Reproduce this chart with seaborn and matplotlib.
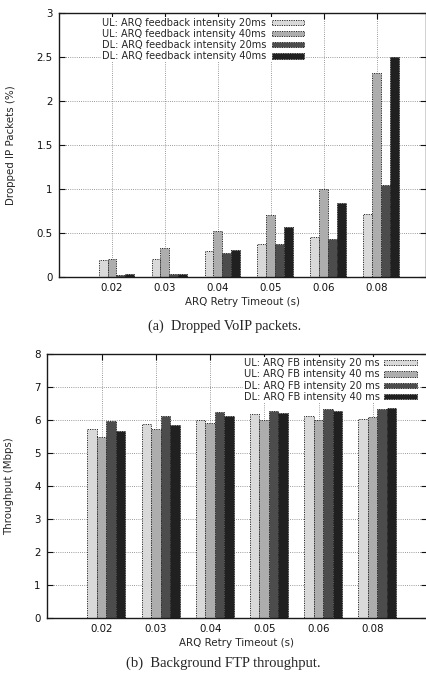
import numpy as np
import pandas as pd
import matplotlib
matplotlib.use("Agg")
import matplotlib.pyplot as plt
import seaborn as sns

# ARQ retry timeout categories (s)
timeouts = ["0.02", "0.03", "0.04", "0.05", "0.06", "0.08"]

# (a) dropped VoIP packets (%)
drop_series = [
    "UL: ARQ feedback intensity 20ms",
    "UL: ARQ feedback intensity 40ms",
    "DL: ARQ feedback intensity 20ms",
    "DL: ARQ feedback intensity 40ms",
]
drop_ul20 = [0.19, 0.21, 0.29, 0.37, 0.45, 0.72]
drop_ul40 = [0.20, 0.33, 0.52, 0.70, 1.00, 2.32]
drop_dl20 = [0.02, 0.03, 0.27, 0.38, 0.435, 1.045]
drop_dl40 = [0.03, 0.035, 0.31, 0.57, 0.84, 2.50]

# (b) background FTP throughput (Mbps)
tput_series = [
    "UL: ARQ FB intensity 20 ms",
    "UL: ARQ FB intensity 40 ms",
    "DL: ARQ FB intensity 20 ms",
    "DL: ARQ FB intensity 40 ms",
]
tput_ul20 = [5.73, 5.87, 5.99, 6.18, 6.13, 6.02]
tput_ul40 = [5.50, 5.73, 5.91, 6.00, 6.01, 6.09]
tput_dl20 = [5.96, 6.13, 6.25, 6.27, 6.33, 6.33]
tput_dl40 = [5.66, 5.86, 6.13, 6.22, 6.28, 6.35]

bar_colors = ["#d9d9d9", "#adadad", "#4c4c4c", "#202020"]

sns.set_style("ticks")
plt.rcParams["font.family"] = ["DejaVu Sans"]
plt.rcParams["font.size"] = 7.4

fig = plt.figure(figsize=(4.27, 6.77), dpi=100)
W, H = 427, 677


def box(l, t, r, b):
    return [l / W, 1 - b / H, (r - l) / W, (b - t) / H]


def long_frame(names, columns):
    rows = []
    for name, vals in zip(names, columns):
        for cat, v in zip(timeouts, vals):
            rows.append({"timeout": cat, "value": v, "series": name})
    return pd.DataFrame(rows)


def draw(ax, names, columns, width, yticks, ylabel, xlim, ylab_x):
    df = long_frame(names, columns)
    sns.barplot(data=df, x="timeout", y="value", hue="series",
                order=timeouts, hue_order=names, palette=bar_colors,
                width=width, saturation=1, errorbar=None,
                edgecolor="#2b2b2b", linewidth=0.7, ax=ax)
    for p in ax.patches:
        p.set_linestyle((0, (1.2, 1.2)))
    handles, labels = ax.get_legend_handles_labels()
    if ax.get_legend() is not None:
        ax.get_legend().remove()

    shift = 0.085
    ax.set_xticks(np.arange(len(timeouts)) - shift, timeouts)
    ax.set_xlim(*xlim)
    ax.set_ylim(yticks[0], yticks[-1])
    ax.set_yticks(yticks, [f"{t:g}" for t in yticks])
    ax.grid(True, color="#7a7a7a", linestyle=(0, (1, 1.6)), linewidth=0.6)
    ax.set_axisbelow(True)
    ax.tick_params(direction="in", top=True, right=True, length=4,
                   width=0.8, pad=4.5, labelsize=7.4, colors="#111111")
    for s in ax.spines.values():
        s.set_linewidth(1.0)
        s.set_color("#1a1a1a")
    ax.set_xlabel("ARQ Retry Timeout (s)", fontsize=7.4, labelpad=3)
    ax.set_ylabel(ylabel, fontsize=7.4)
    ax.yaxis.set_label_coords(ylab_x, 0.5)
    return handles, labels


# (a) dropped packets
ax1 = fig.add_axes(box(59, 13, 426, 277))
h1, l1 = draw(ax1, drop_series, [drop_ul20, drop_ul40, drop_dl20, drop_dl40],
              0.67, [0, 0.5, 1, 1.5, 2, 2.5, 3], "Dropped IP Packets (%)",
              (-1.085, 5.85), -0.118)
fig.legend(h1, l1, loc="upper right", bbox_to_anchor=(305 / W, 1 - 17 / H),
           markerfirst=False, frameon=True, facecolor="white", edgecolor="none",
           framealpha=1, borderpad=0.1, borderaxespad=0, labelspacing=0.12,
           handlelength=3.3, handleheight=0.45, handletextpad=0.6,
           fontsize=7.0)

# (b) throughput
ax2 = fig.add_axes(box(47, 354, 427, 618))
h2, l2 = draw(ax2, tput_series, [tput_ul20, tput_ul40, tput_dl20, tput_dl40],
              0.70, list(range(0, 9)), "Throughput (Mbps)",
              (-1.095, 5.915), -0.088)
fig.legend(h2, l2, loc="upper right", bbox_to_anchor=(418 / W, 1 - 357 / H),
           markerfirst=False, frameon=True, facecolor="white", edgecolor="none",
           framealpha=1, borderpad=0.1, borderaxespad=0, labelspacing=0.14,
           handlelength=3.3, handleheight=0.45, handletextpad=0.5,
           fontsize=7.1)

fig.text(225 / W, 1 - 326 / H, "(a)  Dropped VoIP packets.", ha="center",
         va="center", family=["Liberation Serif"], fontsize=10.3)
fig.text(223 / W, 1 - 663 / H, "(b)  Background FTP throughput.", ha="center",
         va="center", family=["Liberation Serif"], fontsize=10.5)

fig.savefig("out.png", dpi=100)
